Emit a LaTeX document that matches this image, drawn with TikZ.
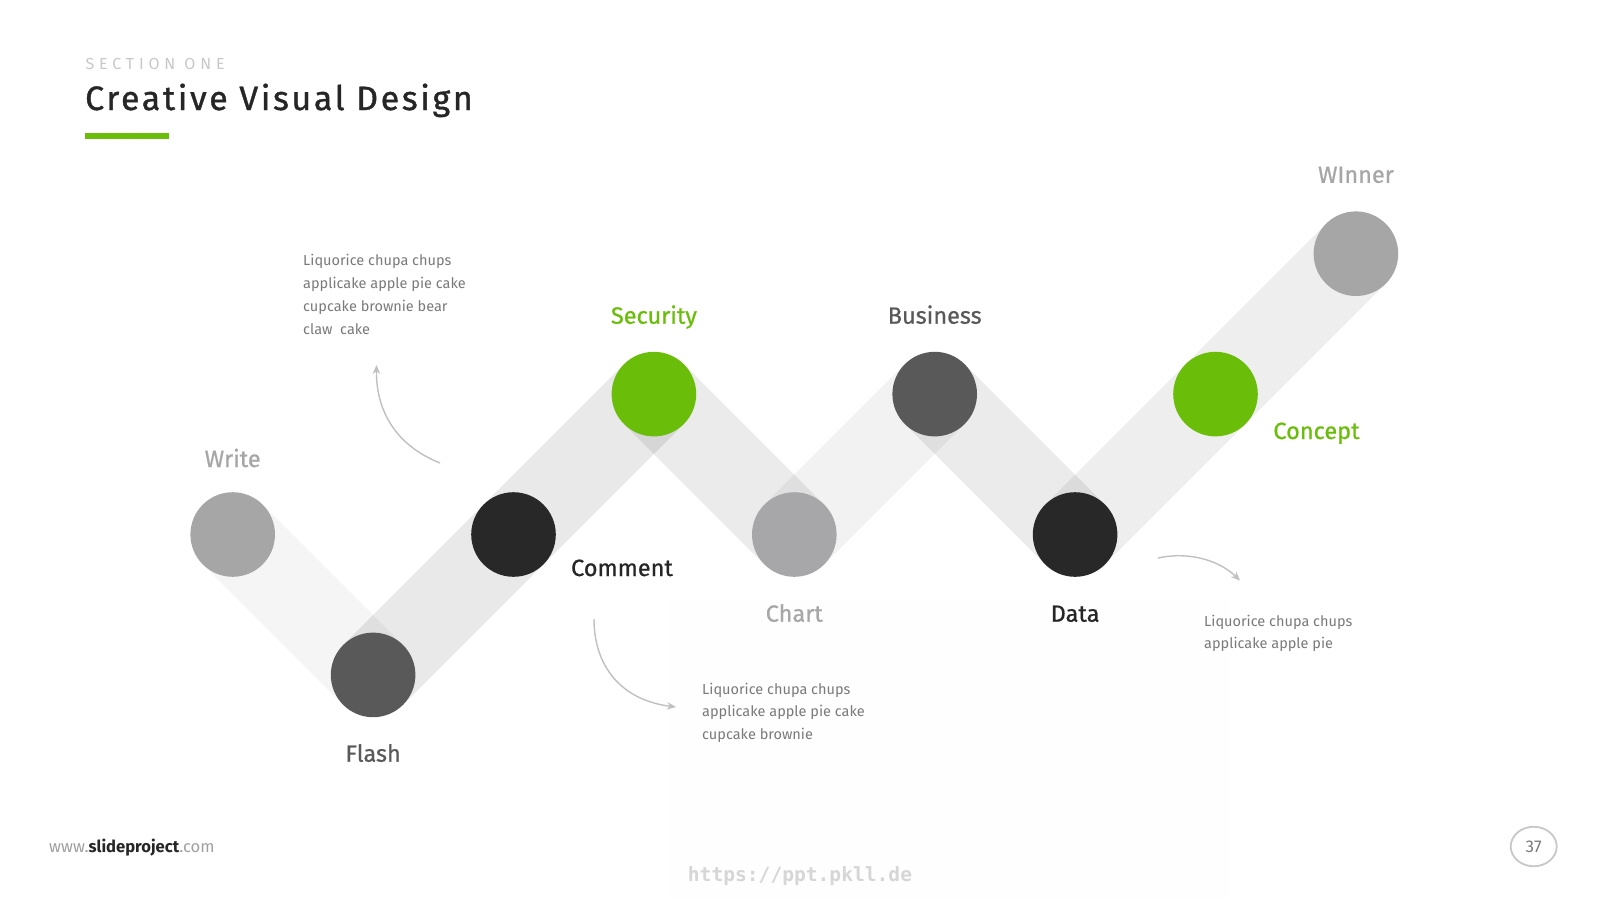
\documentclass[tikz,border=0pt]{standalone}
\usepackage{fontspec}
\usetikzlibrary{arrows.meta,backgrounds,shapes.geometric}
\newfontfamily\fmed{Fira Sans}[FakeBold=0.7]
\newfontfamily\ftitle{Fira Sans}[FakeBold=1.1]
\newfontfamily\flight{Fira Sans}
\newfontfamily\wmfont{DejaVu Sans Mono}
\definecolor{cLight}{HTML}{A6A6A6}
\definecolor{cLightB}{HTML}{A7A6A9}
\definecolor{cMid}{HTML}{595959}
\definecolor{cDark}{HTML}{282828}
\definecolor{cGreen}{HTML}{6ABE0A}
\definecolor{cTitle}{HTML}{262626}
\definecolor{txtgray}{HTML}{7A7A7A}
\definecolor{arrgray}{HTML}{C0C0C0}
\definecolor{secgray}{HTML}{C8C8C8}
\definecolor{urlgray}{HTML}{A0A0A0}
\definecolor{circgray}{HTML}{C8C8C8}
\definecolor{numgray}{HTML}{7A7A7A}
\definecolor{wmgray}{HTML}{D6D6D6}
\definecolor{wmback}{HTML}{FEFEFE}
\begin{document}
\begin{tikzpicture}[x=1pt,y=-1pt,
  dot/.style={circle, inner sep=0pt, minimum size=84.6pt, draw=none},
  band/.style={line width=84.6pt, draw=black, draw opacity=#1},
  lbl/.style={font=\fmed\fontsize{23.5}{27}\selectfont, inner sep=0pt, anchor=base},
  body/.style={font=\flight\fontsize{14.5}{22.8}\selectfont, text=txtgray, align=left, inner sep=0pt, anchor=base west},
  arr/.style={draw=arrgray, line width=1.4pt, -{Stealth[length=9pt,width=7.5pt]}}]
\useasboundingbox (0,0) rectangle (1600,900);

% circles
\node[dot, fill=cLight]  (write)    at (232.7,534.5) {};
\node[dot, fill=cMid]    (flash)    at (373.1,674.9) {};
\node[dot, fill=cDark]   (comment)  at (513.5,534.5) {};
\node[dot, fill=cGreen]  (security) at (653.9,394.1) {};
\node[dot, fill=cLightB] (chart)    at (794.3,534.5) {};
\node[dot, fill=cMid]    (business) at (934.7,394.1) {};
\node[dot, fill=cDark]   (data)     at (1075.1,534.5) {};
\node[dot, fill=cGreen]  (concept)  at (1215.5,394.1) {};
\node[dot, fill=cLight]  (winner)   at (1355.9,253.7) {};

\begin{pgfonlayer}{background}
  \fill[white] (0,0) rectangle (1600,900);
  \fill[wmback] (668,600) rectangle (1230,900);
  \draw[band=0.04]  (write.center) -- (flash.center);
  \draw[band=0.085] (flash.center) -- (security.center);
  \draw[band=0.08]  (security.center) -- (chart.center);
  \draw[band=0.05]  (chart.center) -- (business.center);
  \draw[band=0.08]  (business.center) -- (data.center);
  \draw[band=0.065] (data.center) -- (winner.center);
\end{pgfonlayer}

% labels
\node[lbl, text=cLight]  (lwrite)    at (232.7,467)   {Write};
\node[lbl, text=cMid]    (lflash)    at (373.1,761.7) {Flash};
\node[lbl, text=cTitle]  (lcomment)  at (622,576)     {Comment};
\node[lbl, text=cGreen]  (lsecurity) at (653.9,323.7) {Security};
\node[lbl, text=cLightB] (lchart)    at (794.3,621.7) {Chart};
\node[lbl, text=cMid]    (lbusiness) at (934.7,323.7) {Business};
\node[lbl, text=cTitle]  (ldata)     at (1075.1,621.7) {Data};
\node[lbl, text=cGreen]  (lconcept)  at (1316.5,439)  {Concept};
\node[lbl, text=cLight]  (lwinner)   at (1355.9,182.8) {WInner};

% body texts (anchored at the baseline of the last line)
\node[body] (t1) at (303,334.1) {Liquorice chupa chups\\applicake apple pie cake\\cupcake brownie bear\\claw\ \ cake};
\node[body] (t2) at (702,739.6) {Liquorice chupa chups\\applicake apple pie cake\\cupcake brownie};
\node[body] (t3) at (1204,648.8) {Liquorice chupa chups\\applicake apple pie};

% arrows
\coordinate (a1s) at (440,463);   \coordinate (a1e) at (376.5,365);
\coordinate (a2s) at (594,619);   \coordinate (a2e) at (676,707);
\coordinate (a3s) at (1158,558);  \coordinate (a3e) at (1240,580.5);
\draw[arr] (a1s) .. controls (395,445) and (376,410) .. (a1e);
\draw[arr] (a2s) .. controls (594,665) and (620,700) .. (a2e);
\draw[arr] (a3s) .. controls (1190,551) and (1220,561) .. (a3e);

% header
\node[anchor=base west, inner sep=0pt, text=secgray,
  font=\flight\fontsize{16}{19}\selectfont\addfontfeature{LetterSpace=30}] (section) at (85.5,69.3) {SECTION ONE};
\node[anchor=base west, inner sep=0pt, text=cTitle,
  font=\ftitle\fontsize{33.8}{38}\selectfont\addfontfeature{LetterSpace=8}] (title) at (85,110) {Creative Visual Design};
\fill[cGreen] (85,133) rectangle (169,139);

% footer
\node[anchor=base west, inner sep=0pt, font=\fontsize{16.6}{19}\selectfont] (url) at (49,852.7)
  {{\flight\color{urlgray}www.}{\flight\bfseries\color{cTitle}slideproject}{\flight\color{urlgray}.com}};
\node[ellipse, draw=circgray, line width=1.8pt, minimum width=46pt, minimum height=39.5pt, inner sep=0pt,
  font=\flight\fontsize{17}{20}\selectfont, text=numgray] (page) at (1533.7,846.5) {37};
\node[inner sep=0pt, font=\wmfont\bfseries\fontsize{19.6}{22}\selectfont, text=wmgray] (wm) at (800,876) {https://ppt.pkll.de};
\end{tikzpicture}
\end{document}
